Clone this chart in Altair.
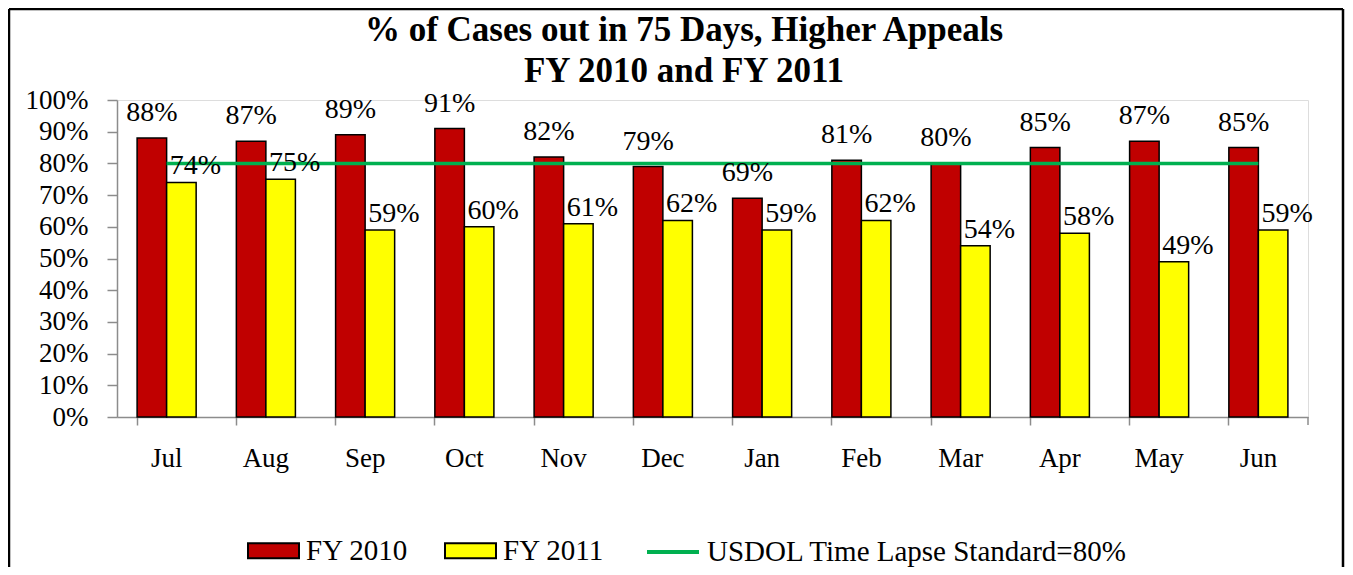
import altair as alt
import pandas as pd

months = ["Jul", "Aug", "Sep", "Oct", "Nov", "Dec", "Jan", "Feb", "Mar", "Apr", "May", "Jun"]
fy2010 = [0.88, 0.87, 0.89, 0.91, 0.82, 0.79, 0.69, 0.81, 0.80, 0.85, 0.87, 0.85]
fy2011 = [0.74, 0.75, 0.59, 0.60, 0.61, 0.62, 0.59, 0.62, 0.54, 0.58, 0.49, 0.59]
standard = [0.80, 0.80, 0.80, 0.80, 0.80, 0.80, 0.80, 0.80, 0.80, 0.80, 0.80, 0.80]
series_names = ["FY 2010", "FY 2011"]
standard_name = "USDOL Time Lapse Standard=80%"
title_lines = "% of Cases out in 75 Days, Higher Appeals\nFY 2010 and FY 2011"
y_ticks = [0.0, 0.1, 0.2, 0.3, 0.4, 0.5, 0.6, 0.7, 0.8, 0.9, 1.0]

bars_df = pd.DataFrame({
    "month": months * 2,
    "series": [series_names[0]] * len(months) + [series_names[1]] * len(months),
    "value": fy2010 + fy2011,
})
line_df = pd.DataFrame({"month": months, "value": standard, "name": [standard_name] * len(months)})
frame_df = pd.DataFrame({"k": [0]})
title_df = pd.DataFrame({"title": [title_lines]})

FONT = "Liberation Serif"
W, H = 1191, 317
GRAY = "#8c8c8c"

x_axis = alt.Axis(title=None, labelAngle=0, labelFont=FONT, labelFontSize=27, labelColor="black",
                  labelPadding=20, tickSize=8, tickColor=GRAY, domainColor=GRAY, domainWidth=1.5,
                  tickWidth=1.5, bandPosition=0)
y_axis = alt.Axis(title=None, values=y_ticks, format=".0%", labelFont=FONT, labelFontSize=27,
                  labelColor="black", labelPadding=19, tickSize=10, tickColor=GRAY,
                  labelOverlap=False, domainColor=GRAY, domainWidth=1.5, tickWidth=1.5, grid=False)
x_scale = alt.Scale(paddingInner=0.405, paddingOuter=0.2025)
y_scale = alt.Scale(domain=[0, 1], nice=False)


def xe():
    return alt.X("month:N", sort=months, scale=x_scale, axis=x_axis)


def ye():
    return alt.Y("value:Q", scale=y_scale, axis=y_axis)


bars = alt.Chart(bars_df).mark_bar(stroke="black", strokeWidth=1.5).encode(
    x=xe(),
    xOffset=alt.XOffset("series:N", sort=series_names),
    y=ye(),
    fill=alt.Fill("series:N", sort=series_names,
                  scale=alt.Scale(domain=series_names, range=["#C00000", "#FFFF00"]),
                  legend=alt.Legend(title=None, orient="none", legendX=130, legendY=424, direction="horizontal",
                                    labelFont=FONT, labelFontSize=29, labelColor="black", labelOffset=6,
                                    columnPadding=32, padding=0,
                                    symbolType="M-1,-0.294L1,-0.294L1,0.294L-1,0.294Z", symbolSize=2601,
                                    symbolStrokeColor="black", symbolStrokeWidth=2)),
)

labels_2010 = alt.Chart(bars_df).transform_filter(alt.datum.series == series_names[0]).mark_text(
    font=FONT, fontSize=28, color="black", baseline="alphabetic", dy=-17
).encode(
    x=xe(),
    xOffset=alt.XOffset("series:N", sort=series_names),
    y=ye(),
    text=alt.Text("value:Q", format=".0%"),
)

labels_2011 = alt.Chart(bars_df).transform_filter(alt.datum.series == series_names[1]).mark_text(
    font=FONT, fontSize=28, color="black", baseline="alphabetic", dy=-8, dx=14
).encode(
    x=xe(),
    xOffset=alt.XOffset("series:N", sort=series_names),
    y=ye(),
    text=alt.Text("value:Q", format=".0%"),
)

line = alt.Chart(line_df).mark_line(strokeWidth=3.5).encode(
    x=xe(),
    y=ye(),
    stroke=alt.Stroke("name:N", scale=alt.Scale(domain=[standard_name], range=["#00B050"]),
                      legend=alt.Legend(title=None, orient="none", legendX=528, legendY=424,
                                        direction="horizontal", labelFont=FONT, labelFontSize=29,
                                        labelColor="black", labelOffset=6, padding=0, labelLimit=0,
                                        symbolType="stroke", symbolSize=2704, symbolStrokeWidth=4)),
)

title = alt.Chart(title_df).mark_text(
    font=FONT, fontSize=35, fontWeight="bold", color="black", align="center",
    baseline="alphabetic", lineBreak="\n", lineHeight=41
).encode(
    text="title:N", x=alt.value(567), y=alt.value(-59)
)

end_tick = alt.Chart(frame_df).mark_rule(color=GRAY, strokeWidth=1.5).encode(
    x=alt.value(W), y=alt.value(H), y2=alt.value(H + 8)
)

frame_left = alt.Chart(frame_df).mark_rule(color="black", strokeWidth=2.5).encode(
    x=alt.value(-108), y=alt.value(-91), y2=alt.value(470)
)
frame_right = alt.Chart(frame_df).mark_rule(color="black", strokeWidth=2.5).encode(
    x=alt.value(1226), y=alt.value(-91), y2=alt.value(470)
)
frame_top = alt.Chart(frame_df).mark_rule(color="black", strokeWidth=2.5).encode(
    x=alt.value(-108), x2=alt.value(1226), y=alt.value(-91)
)

chart = alt.layer(
    bars, line, labels_2010, labels_2011, title, end_tick, frame_left, frame_right, frame_top
).properties(
    width=W,
    height=H,
    autosize="none",
    padding={"left": 109, "top": 92, "right": 37, "bottom": 150},
).configure_view(strokeWidth=0).configure_axisY(labelOverlap=False).configure(background="white", font=FONT)

chart.save("out.html", embed_options={"renderer": "svg", "actions": False})
